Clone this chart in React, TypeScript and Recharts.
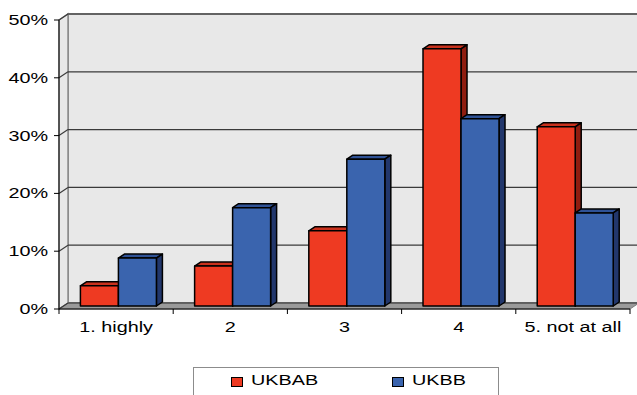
import React from "react";
import {
  BarChart,
  Bar,
  XAxis,
  YAxis,
  CartesianGrid,
  ReferenceArea,
  Legend,
} from "recharts";

const categories = ["1. highly", "2", "3", "4", "5. not at all"];
const ukbab = [3.5, 6.9, 13.0, 44.5, 31.0];
const ukbb = [8.3, 17.0, 25.4, 32.4, 16.1];
const yTicks = [0, 10, 20, 30, 40, 50];

const data = categories.map((name, i) => ({
  name,
  UKBAB: ukbab[i],
  UKBB: ukbb[i],
}));

const FONT = '"Liberation Sans", Arial, sans-serif';
// text in this chart is drawn a bit wider than normal
const STRETCH = 1.32;

// perspective offsets: back wall, column depth, column placement
const WALL_DX = 9;
const WALL_DY = -6;
const COL_DX = 6;
const COL_DY = -4;
const SHIFT_X = 2;
const SHIFT_Y = -3;

const COLORS = {
  UKBAB: { front: "#ee3a22", top: "#c9311d", side: "#8f1d10" },
  UKBB: { front: "#3a64ae", top: "#2f5296", side: "#22376c" },
};

function Column(props) {
  const { x, y, width, height, tone } = props;
  if (!height || height <= 0) return null;
  const c = COLORS[tone];
  const fx = x + SHIFT_X;
  const fy = y + SHIFT_Y;
  const r = fx + width;
  const b = fy + height;
  return (
    <g stroke="#000" strokeWidth={1.5} strokeLinejoin="round">
      <polygon
        points={`${fx},${fy} ${fx + COL_DX},${fy + COL_DY} ${r + COL_DX},${fy + COL_DY} ${r},${fy}`}
        fill={c.top}
      />
      <polygon
        points={`${r},${fy} ${r + COL_DX},${fy + COL_DY} ${r + COL_DX},${b + COL_DY} ${r},${b}`}
        fill={c.side}
      />
      <rect x={fx} y={fy} width={width} height={height} fill={c.front} />
    </g>
  );
}

// back wall, side wall, floor and the category separators under the floor
function Walls({ x, y, width, height }) {
  const bottom = y + height;
  const right = x + width;
  const n = categories.length;
  const seps = categories.map((_, i) => x + (width * i) / n).concat(right);
  return (
    <g>
      <rect
        x={x + WALL_DX}
        y={y + WALL_DY}
        width={width}
        height={height}
        fill="#e8e8e8"
        stroke="#8c8c8c"
        strokeWidth={2}
      />
      <polygon
        points={`${x},${y} ${x + WALL_DX},${y + WALL_DY} ${x + WALL_DX},${bottom + WALL_DY} ${x},${bottom}`}
        fill="#e8e8e8"
        stroke="#8c8c8c"
        strokeWidth={1.5}
      />
      <polygon
        points={`${x},${bottom} ${x + WALL_DX},${bottom + WALL_DY} ${right + WALL_DX},${bottom + WALL_DY} ${right},${bottom}`}
        fill="#9a9a9a"
        stroke="#7a7a7a"
      />
      {seps.map((sx, i) => (
        <line key={i} x1={sx} x2={sx} y1={bottom} y2={bottom + 5} stroke="#000" />
      ))}
    </g>
  );
}

const gridLine = (p) => (
  <g key={p.key ?? `${p.y1}`}>
    <line
      x1={p.x1 + WALL_DX}
      x2={p.x2 + WALL_DX}
      y1={p.y1 + WALL_DY}
      y2={p.y2 + WALL_DY}
      stroke="#3a3a3a"
      strokeWidth={1.2}
    />
    <line
      x1={p.x1}
      y1={p.y1}
      x2={p.x1 + WALL_DX}
      y2={p.y1 + WALL_DY}
      stroke="#3a3a3a"
      strokeWidth={1.2}
    />
  </g>
);

const YTick = ({ x, y, payload }) => (
  <g transform={`translate(${x},${y}) scale(${STRETCH},1)`}>
    <text textAnchor="end" dy={5} fontSize={15} fontFamily={FONT} fill="#000">
      {payload.value}%
    </text>
  </g>
);

const XTick = ({ x, y, payload }) => (
  <g transform={`translate(${x},${y}) scale(${STRETCH},1)`}>
    <text textAnchor="middle" dy={11} fontSize={15} fontFamily={FONT} fill="#000">
      {payload.value}
    </text>
  </g>
);

const LegendBox = ({ payload }) => (
  <div
    style={{
      width: 306,
      height: 30,
      border: "1px solid #8c8c8c",
      boxSizing: "border-box",
      background: "#fff",
      position: "relative",
      fontFamily: FONT,
      fontSize: 15,
      color: "#000",
    }}
  >
    {(payload || []).map((item, i) => (
      <div
        key={item.value}
        style={{
          position: "absolute",
          left: i === 0 ? 37 : 198,
          top: 6,
          display: "flex",
          alignItems: "center",
          height: 15,
        }}
      >
        <span
          style={{
            width: 10,
            height: 8,
            background: item.color,
            border: "1px solid #000",
            display: "inline-block",
          }}
        />
        <span
          style={{
            marginLeft: 8,
            display: "inline-block",
            position: "relative",
            top: -2,
            lineHeight: "15px",
            transform: `scaleX(${STRETCH})`,
            transformOrigin: "left center",
          }}
        >
          {item.value}
        </span>
      </div>
    ))}
  </div>
);

export default function App() {
  return (
    <div
      style={{
        position: "absolute",
        left: 0,
        top: 0,
        width: 637,
        height: 395,
        overflow: "hidden",
        background: "#fff",
        fontFamily: FONT,
      }}
    >
      <BarChart
        width={637}
        height={395}
        data={data}
        margin={{ top: 20, right: 7, left: 0, bottom: 0 }}
        barCategoryGap="17%"
        barGap={0}
      >
        <ReferenceArea y1={0} y2={50} shape={Walls} zIndex={-200} />
        <CartesianGrid vertical={false} horizontal={gridLine} />
        <XAxis
          dataKey="name"
          interval={0}
          axisLine={{ stroke: "#000" }}
          tickLine={false}
          tickSize={0}
          tickMargin={12}
          tick={XTick}
          height={56}
        />
        <YAxis
          domain={[0, 50]}
          ticks={yTicks}
          interval={0}
          width={59}
          axisLine={{ stroke: "#000" }}
          tickLine={{ stroke: "#000" }}
          tickSize={5}
          tickMargin={6}
          tick={YTick}
        />
        <Legend
          content={LegendBox}
          wrapperStyle={{ left: 193, top: 367, bottom: "auto", width: 306 }}
        />
        <Bar
          dataKey="UKBAB"
          name="UKBAB"
          fill={COLORS.UKBAB.front}
          isAnimationActive={false}
          shape={(p) => <Column {...p} tone="UKBAB" />}
        />
        <Bar
          dataKey="UKBB"
          name="UKBB"
          fill={COLORS.UKBB.front}
          isAnimationActive={false}
          shape={(p) => <Column {...p} tone="UKBB" />}
        />
      </BarChart>
    </div>
  );
}
